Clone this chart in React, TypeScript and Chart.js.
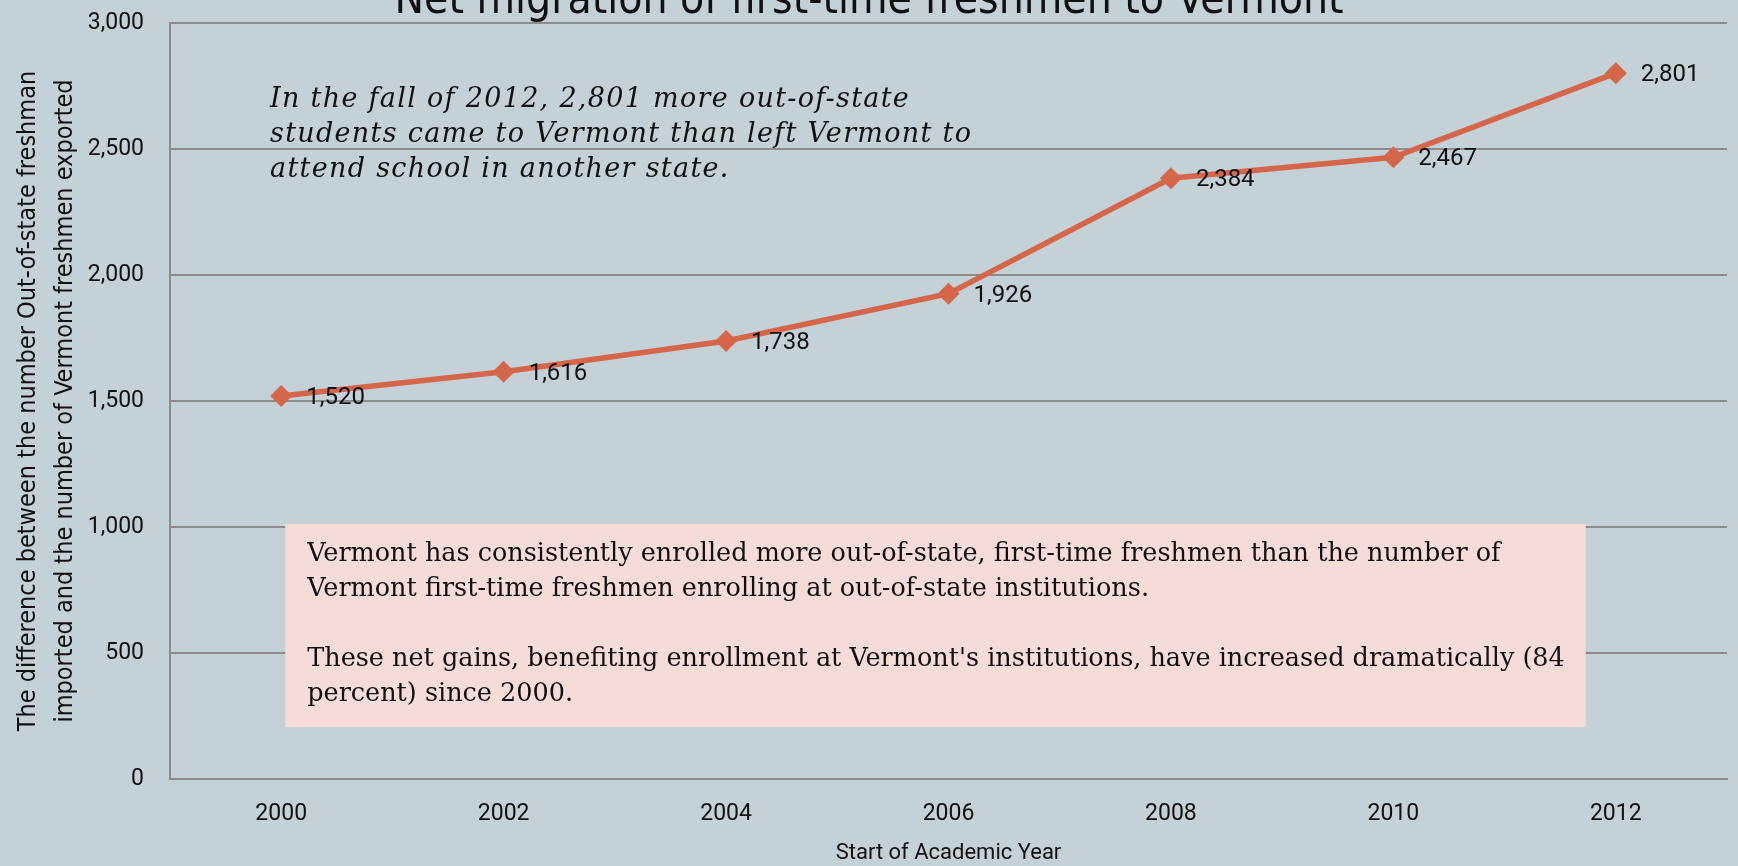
import React, { useEffect, useRef } from "react";
import { Chart, registerables } from "chart.js";

Chart.register(...registerables);

const years = ["2000", "2002", "2004", "2006", "2008", "2010", "2012"];
const netMigration = [1520, 1616, 1738, 1926, 2384, 2467, 2801];
const yTicks = [0, 500, 1000, 1500, 2000, 2500, 3000];

const chartTitle = "Net migration of first-time freshmen to Vermont";
const yTitleLines = [
  "The difference between the number Out-of-state freshman",
  "imported and the number of Vermont freshmen exported",
];
const xTitle = "Start of Academic Year";
const noteLines = [
  "In the fall of 2012, 2,801 more out-of-state",
  "students came to Vermont than left Vermont to",
  "attend school in another state.",
];
const boxLines = [
  "Vermont has consistently enrolled more out-of-state, first-time freshmen than the number of",
  "Vermont first-time freshmen enrolling at out-of-state institutions.",
  "",
  "These net gains, benefiting enrollment at Vermont's institutions, have increased dramatically (84",
  "percent) since 2000.",
];

const BG = "#C4D1D7";
const LINE = "#D5664A";
const GRID = "#8C8C8C";
const BOX = "#F5DCD8";
const SANS = "Roboto, 'Open Sans', sans-serif";
const NARROW = "'Liberation Sans Narrow', 'DejaVu Sans Condensed', 'Roboto', sans-serif";

const fmt = (v: number) => v.toLocaleString("en-US");

const decorPlugin = {
  id: "decor",
  beforeDraw(chart: any) {
    const ctx = chart.ctx;
    ctx.save();
    ctx.fillStyle = BG;
    ctx.fillRect(0, 0, chart.width, chart.height);
    ctx.restore();
  },
  beforeDatasetsDraw(chart: any) {
    const ctx = chart.ctx;
    const x = chart.scales.x;
    const y = chart.scales.y;
    ctx.save();
    // pink box
    const bx = x.getPixelForValue(0) + 4;
    const bx2 = x.getPixelForValue(6) - 30;
    const by = y.getPixelForValue(1012);
    const by2 = y.getPixelForValue(206);
    ctx.fillStyle = BOX;
    ctx.fillRect(bx, by, bx2 - bx, by2 - by);
    ctx.fillStyle = "#111";
    ctx.font = "25.5px 'DejaVu Serif', serif";
    ctx.textAlign = "left";
    ctx.textBaseline = "alphabetic";
    boxLines.forEach((t, i) => {
      if (t) ctx.fillText(t, bx + 22, by + 37 + i * 35);
    });
    // italic note
    ctx.font = "italic 27px 'DejaVu Serif', serif";
    try {
      (ctx as any).letterSpacing = "1.3px";
    } catch (e) {}
    noteLines.forEach((t, i) => ctx.fillText(t, 270, 107 + i * 35));
    ctx.restore();
  },
  afterDraw(chart: any) {
    const ctx = chart.ctx;
    const area = chart.chartArea;
    ctx.save();
    ctx.fillStyle = "#111";
    // title
    ctx.font = `44px ${NARROW}`;
    ctx.textAlign = "center";
    ctx.textBaseline = "alphabetic";
    ctx.fillText(chartTitle, chart.width / 2, 13);
    // x title
    ctx.font = `22px ${SANS}`;
    ctx.textBaseline = "middle";
    ctx.fillText(xTitle, (area.left + area.right) / 2, 853);
    // y title
    ctx.font = `25px ${NARROW}`;
    ctx.translate(0, (area.top + area.bottom) / 2);
    ctx.rotate(-Math.PI / 2);
    ctx.fillText(yTitleLines[0], 0, 28);
    ctx.fillText(yTitleLines[1], 0, 65);
    ctx.restore();
    // data labels
    ctx.save();
    ctx.font = `24px ${SANS}`;
    ctx.fillStyle = "#111";
    ctx.textAlign = "left";
    ctx.textBaseline = "middle";
    const meta = chart.getDatasetMeta(0);
    meta.data.forEach((pt: any, i: number) => {
      ctx.fillText(fmt(netMigration[i]), pt.x + 25, pt.y + 2);
    });
    ctx.restore();
  },
};

export default function App() {
  const ref = useRef<HTMLCanvasElement | null>(null);
  useEffect(() => {
    if (!ref.current) return;
    const chart = new Chart(ref.current, {
      type: "line",
      data: {
        labels: years,
        datasets: [
          {
            data: netMigration,
            borderColor: LINE,
            backgroundColor: LINE,
            borderWidth: 5.5,
            pointStyle: "rectRot",
            pointRadius: 11,
            pointBackgroundColor: LINE,
            pointBorderColor: LINE,
            pointBorderWidth: 0,
            tension: 0,
          },
        ],
      },
      options: {
        responsive: false,
        animation: false,
        layout: { padding: { left: 0, top: 23, right: 3, bottom: 0 } },
        plugins: {
          legend: { display: false },
          title: { display: false },
          tooltip: { enabled: false },
        },
        scales: {
          x: {
            offset: true,
            grid: { display: false, drawTicks: false },
            border: { display: true, color: GRID, width: 2 },
            ticks: {
              color: "#111",
              font: { family: SANS, size: 23 },
              padding: 21,
              maxRotation: 0,
            },
            afterFit: (s: any) => {
              s.height = 87;
              s.paddingTop = 0;
              s.paddingBottom = 0;
            },
          },
          y: {
            min: 0,
            max: 3000,
            afterBuildTicks: (s: any) => {
              s.ticks = yTicks.map((v) => ({ value: v }));
            },
            grid: { color: GRID, lineWidth: 2, drawTicks: false },
            border: { display: true, color: GRID, width: 2 },
            ticks: {
              color: "#111",
              font: { family: SANS, size: 23 },
              padding: 26,
              callback: (v: any) => fmt(Number(v)),
            },
            afterFit: (s: any) => {
              s.width = 170;
              s.paddingTop = 0;
              s.paddingBottom = 0;
            },
          },
        },
      },
      plugins: [decorPlugin],
    });
    return () => chart.destroy();
  }, []);
  return (
    <div style={{ position: "absolute", left: 0, top: 0, width: 1738, height: 866 }}>
      <canvas ref={ref} width={1738} height={866} style={{ display: "block" }} />
    </div>
  );
}
